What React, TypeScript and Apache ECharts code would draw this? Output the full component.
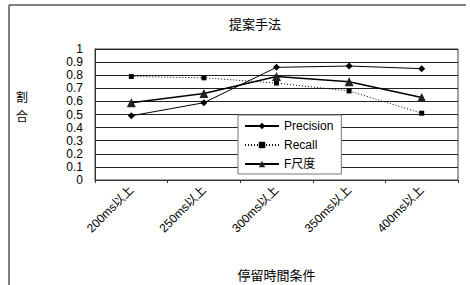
import React, { useEffect, useRef } from "react";
import * as echarts from "echarts";

const categories = ["200ms以上", "250ms以上", "300ms以上", "350ms以上", "400ms以上"];
const precision = [0.49, 0.59, 0.86, 0.87, 0.85];
const recall = [0.79, 0.78, 0.74, 0.68, 0.51];
const fMeasure = [0.59, 0.66, 0.79, 0.75, 0.63];
const seriesNames = ["Precision", "Recall", "F尺度"];

export default function App() {
  const ref = useRef<HTMLDivElement>(null);
  useEffect(() => {
    const chart = echarts.init(ref.current!, null, { renderer: "svg" });
    const font = "'Liberation Sans', 'Noto Sans CJK JP', sans-serif";
    const cjk = "'Noto Sans CJK JP', sans-serif";
    chart.setOption({
      animation: false,
      backgroundColor: "#fff",
      textStyle: { fontFamily: font, color: "#000" },
      title: {
        text: "提案手法",
        left: 250,
        top: 12,
        textAlign: "center",
        textStyle: { fontSize: 13, fontWeight: "normal", color: "#000", fontFamily: cjk },
      },
      grid: { left: 95, right: 12, top: 49, bottom: 105, show: true, borderColor: "#444", borderWidth: 1 },
      legend: {
        orient: "vertical",
        left: 238,
        top: 115,
        data: seriesNames,
        backgroundColor: "#fff",
        borderColor: "#777",
        borderWidth: 1,
        padding: [5, 8, 4, 6],
        itemGap: 7,
        itemWidth: 34,
        itemHeight: 8,
        textStyle: { fontSize: 12, color: "#000", fontFamily: font },
      },
      xAxis: {
        type: "category",
        data: categories,
        boundaryGap: true,
        name: "停留時間条件",
        nameLocation: "middle",
        nameGap: 88,
        nameTextStyle: { fontSize: 13, color: "#000", fontFamily: cjk },
        axisLine: { lineStyle: { color: "#333" } },
        axisTick: { show: true, length: 3, lineStyle: { color: "#333" } },
        axisLabel: { rotate: 45, fontSize: 12, color: "#000", margin: 8 },
      },
      yAxis: {
        type: "value",
        min: 0,
        max: 1,
        interval: 0.1,
        axisLine: { show: true, lineStyle: { color: "#333" } },
        axisTick: { show: false },
        splitLine: { lineStyle: { color: "#222", width: 1 } },
        axisLabel: {
          fontSize: 12,
          color: "#000",
          margin: 12,
          formatter: (v: number) => (v === 0 ? "0" : v === 1 ? "1" : v.toFixed(1)),
        },
      },
      graphic: [
        { type: "line", shape: { x1: 9, y1: 5, x2: 466, y2: 5 }, style: { stroke: "#555", lineWidth: 1.5 } },
        { type: "line", shape: { x1: 9, y1: 5, x2: 9, y2: 285 }, style: { stroke: "#555", lineWidth: 1.5 } },
        {
          type: "text",
          left: 16,
          top: 90,
          style: { text: "割", fontSize: 12, fill: "#000", fontFamily: cjk },
        },
        {
          type: "text",
          left: 16,
          top: 109,
          style: { text: "合", fontSize: 12, fill: "#000", fontFamily: cjk },
        },
      ],
      series: [
        {
          name: seriesNames[0],
          type: "line",
          data: precision,
          symbol: "diamond",
          symbolSize: 7,
          lineStyle: { color: "#000", width: 1 },
          itemStyle: { color: "#000" },
        },
        {
          name: seriesNames[1],
          type: "line",
          data: recall,
          symbol: "rect",
          symbolSize: 5,
          lineStyle: { color: "#000", width: 1, type: [1, 2] },
          itemStyle: { color: "#000" },
        },
        {
          name: seriesNames[2],
          type: "line",
          data: fMeasure,
          symbol: "triangle",
          symbolSize: 9,
          lineStyle: { color: "#000", width: 1.5 },
          itemStyle: { color: "#222" },
        },
      ],
    });
    return () => chart.dispose();
  }, []);
  return <div ref={ref} style={{ position: "absolute", left: 0, top: 0, width: 470, height: 285 }} />;
}
